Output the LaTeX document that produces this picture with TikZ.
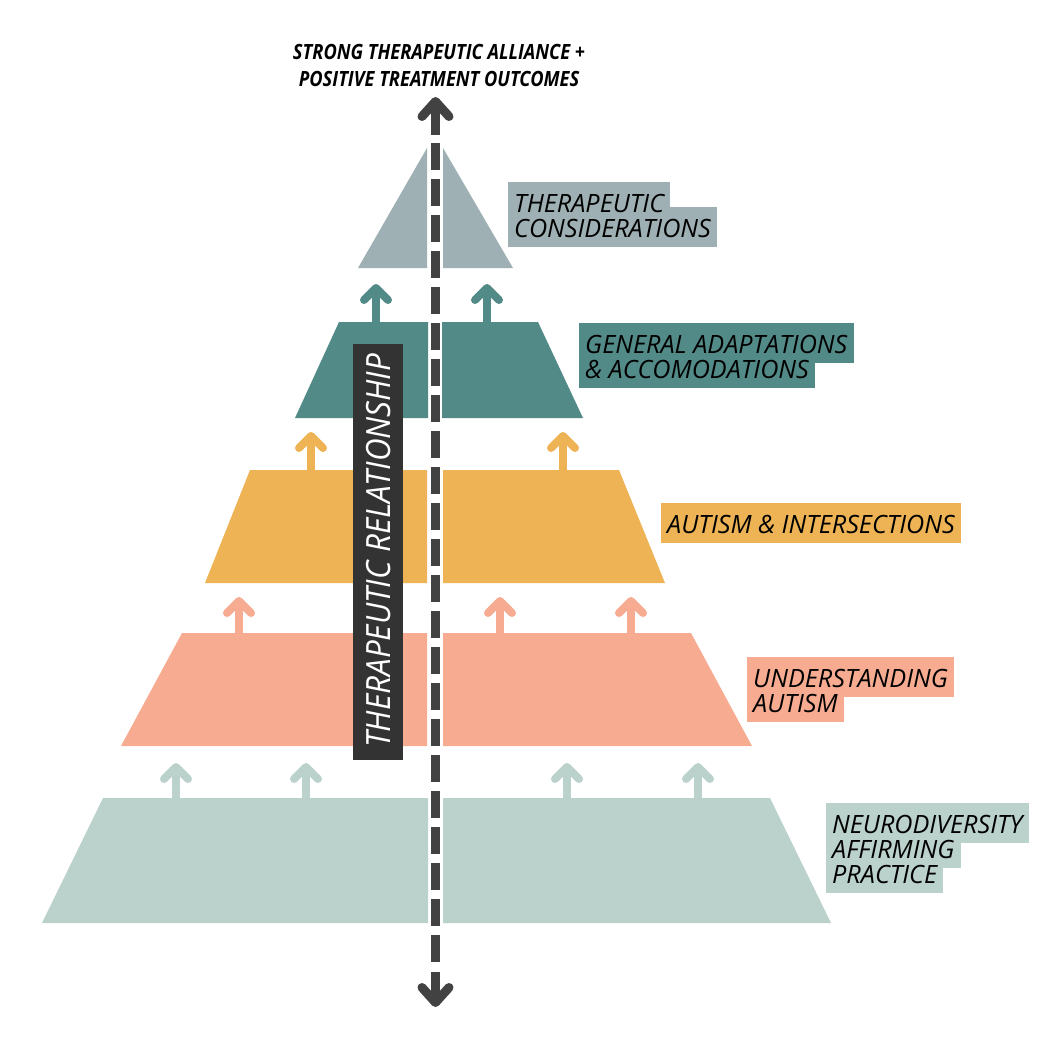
\documentclass[tikz,border=0pt]{standalone}
\usepackage{fontspec}
\setmainfont{Open Sans}
\newfontfamily\titlefont{Open Sans}[FakeStretch=0.87]
\newfontfamily\relfont{Open Sans}[FakeStretch=0.94]
\pgfdeclarelayer{bg}
\pgfsetlayers{bg,main}
\definecolor{cTri}{HTML}{9EB0B3}
\definecolor{cTeal}{HTML}{528A88}
\definecolor{cYel}{HTML}{EDB355}
\definecolor{cSal}{HTML}{F7AC92}
\definecolor{cSage}{HTML}{BBD1CB}
\definecolor{cBox}{HTML}{333333}
\definecolor{cLine}{HTML}{424242}
\tikzset{
  lbl/.style={anchor=base west, inner xsep=6pt, inner ysep=0pt, text height=30pt, text depth=10pt,
    font=\fontsize{25.2}{25.2}\selectfont\itshape, text=black},
  chev/.style={line width=8pt, line cap=round, line join=round},
  shaft/.style={line width=8pt},
  mainln/.style={line width=9pt, draw=cLine},
  ttl/.style={anchor=base, inner sep=0pt, font=\titlefont\fontsize{21}{21}\selectfont\bfseries\itshape},
  pics/uparr/.style={code={
    \draw[chev] (-12,12) -- (0,0) -- (12,12);
    \draw[shaft] (0,0) -- (0,#1);
  }},
}
\begin{document}
\begin{tikzpicture}[x=1pt,y=-1pt]
\useasboundingbox (0,0) rectangle (1055,1047);
% levels
\fill[cTri] (358,268) -- (427,268) -- (427,148) -- cycle;
\fill[cTri] (443,148) -- (443,268) -- (513,268) -- cycle;
\fill[cTeal] (339,322) -- (428,322) -- (428,418) -- (295,418) -- cycle;
\fill[cTeal] (442,322) -- (538,322) -- (583,418) -- (442,418) -- cycle;
\fill[cYel] (250,470) -- (427,470) -- (427,583) -- (205,583) -- cycle;
\fill[cYel] (443,470) -- (619,470) -- (665,583) -- (443,583) -- cycle;
\fill[cSal] (182,633) -- (427,633) -- (427,746) -- (121,746) -- cycle;
\fill[cSal] (443,633) -- (691,633) -- (752,746) -- (443,746) -- cycle;
\fill[cSage] (103,798) -- (428,798) -- (428,923) -- (42,923) -- cycle;
\fill[cSage] (443,798) -- (770,798) -- (831,923) -- (443,923) -- cycle;
% small arrows
\pic[color=cTeal] at (376,288) {uparr=34};
\pic[color=cTeal] at (487,288) {uparr=34};
\pic[color=cYel] at (311,436) {uparr=34};
\pic[color=cYel] at (563,436) {uparr=34};
\pic[color=cSal] at (239,601) {uparr=32};
\pic[color=cSal] at (500,601) {uparr=32};
\pic[color=cSal] at (631,601) {uparr=32};
\pic[color=cSage] at (176,767) {uparr=31};
\pic[color=cSage] at (306,767) {uparr=31};
\pic[color=cSage] at (567,767) {uparr=31};
\pic[color=cSage] at (698,767) {uparr=31};
% relationship box
\node[fill=cBox, minimum width=50pt, minimum height=416pt, inner sep=0pt] (relbox) at (378,552) {};
\node[anchor=base west, rotate=90, inner sep=0pt, text=white,
  font=\relfont\fontsize{33.4}{33.4}\selectfont\itshape] (reltext) at (390,748) {THERAPEUTIC RELATIONSHIP};
% main arrow
\coordinate (mt) at (435.5,101.5);
\coordinate (mb) at (435.5,1002.5);
\coordinate (s1) at (435.5,135);
\coordinate (d1) at (435.5,143);
\coordinate (d2) at (435.5,963);
\coordinate (s2) at (435.5,971.5);
\draw[mainln] (mt) -- (s1);
\draw[mainln, dash pattern=on 27pt off 9pt] (d1) -- (d2);
\draw[mainln] (s2) -- (mb);
\draw[mainln, line cap=round, line join=round] (422,116.5) -- (mt) -- (449,116.5);
\draw[mainln, line cap=round, line join=round] (422,987.5) -- (mb) -- (449,987.5);
% title
\node[ttl] (t1) at (439,59) {STRONG THERAPEUTIC ALLIANCE +};
\node[ttl] (t2) at (439,86) {POSITIVE TREATMENT OUTCOMES};
% labels
\node[lbl] (a1) at (508,212) {THERAPEUTIC};
\node[lbl] (a2) at (508,237) {CONSIDERATIONS};
\node[lbl] (b1) at (579,353) {GENERAL ADAPTATIONS};
\node[lbl] (b2) at (579,378) {\& ACCOMODATIONS};
\node[lbl] (c1) at (661,533) {AUTISM \& INTERSECTIONS};
\node[lbl] (d1l) at (747,687) {UNDERSTANDING};
\node[lbl] (d2l) at (747,712) {AUTISM};
\node[lbl] (e1) at (826,833) {NEURODIVERSITY};
\node[lbl] (e2) at (826,858) {AFFIRMING};
\node[lbl] (e3) at (826,883) {PRACTICE};
\begin{pgfonlayer}{bg}
\foreach \n in {a1,a2} \fill[cTri] (\n.north west) rectangle (\n.south east);
\foreach \n in {b1,b2} \fill[cTeal] (\n.north west) rectangle (\n.south east);
\foreach \n in {c1} \fill[cYel] (\n.north west) rectangle (\n.south east);
\foreach \n in {d1l,d2l} \fill[cSal] (\n.north west) rectangle (\n.south east);
\foreach \n in {e1,e2,e3} \fill[cSage] (\n.north west) rectangle (\n.south east);
\end{pgfonlayer}
\end{tikzpicture}
\end{document}
